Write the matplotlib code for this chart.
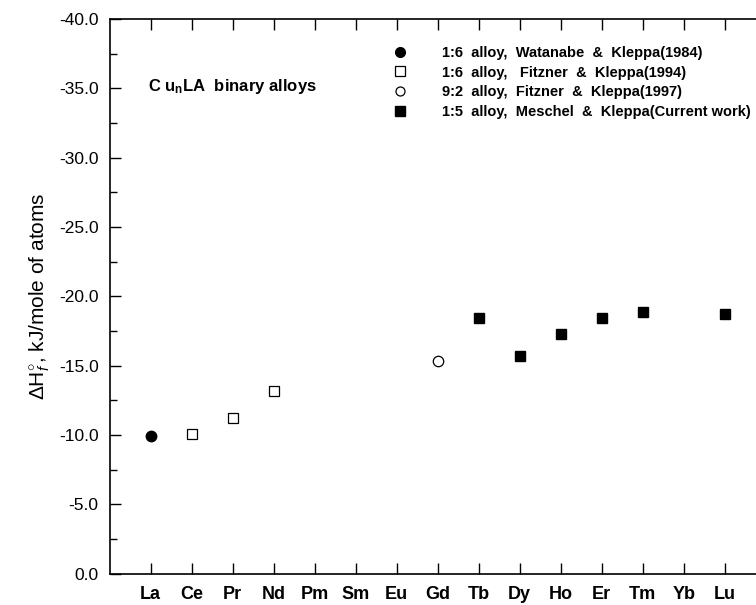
import matplotlib
matplotlib.use("Agg")
import matplotlib.pyplot as plt
from matplotlib.lines import Line2D
from matplotlib.ticker import MultipleLocator, FormatStrFormatter

plt.rcParams['font.family'] = ['Liberation Sans', 'DejaVu Sans']
plt.rcParams['mathtext.fontset'] = 'custom'
plt.rcParams['mathtext.rm'] = 'Liberation Sans'
plt.rcParams['mathtext.it'] = 'Liberation Sans:italic'
plt.rcParams['mathtext.bf'] = 'Liberation Sans:bold'

# lanthanide series, positions 1..15
elements = ['La', 'Ce', 'Pr', 'Nd', 'Pm', 'Sm', 'Eu', 'Gd', 'Tb', 'Dy', 'Ho', 'Er', 'Tm', 'Yb', 'Lu']

# enthalpy of formation, kJ/mole of atoms
watanabe_el = ['La']
watanabe_dh = [-9.9]
fitzner94_el = ['Ce', 'Pr', 'Nd']
fitzner94_dh = [-10.1, -11.2, -13.2]
fitzner97_el = ['Gd']
fitzner97_dh = [-15.3]
meschel_el = ['Tb', 'Dy', 'Ho', 'Er', 'Tm', 'Lu']
meschel_dh = [-18.4, -15.7, -17.3, -18.4, -18.9, -18.7]

labels = ['1:6  alloy,  Watanabe  &  Kleppa(1984)',
          '1:6  alloy,   Fitzner  &  Kleppa(1994)',
          '9:2  alloy,  Fitzner  &  Kleppa(1997)',
          '1:5  alloy,  Meschel  &  Kleppa(Current work)']


def pos(names):
    return [elements.index(n) + 1 for n in names]


fig = plt.figure(figsize=(7.56, 6.05), dpi=100)
ax = fig.add_axes([0.1451, 0.052, 16 * 41 / 756, 0.9165])

ax.plot(pos(watanabe_el), watanabe_dh, 'o', color='black', ms=7.5, ls='none')
ax.plot(pos(fitzner94_el), fitzner94_dh, 's', mfc='white', mec='black', mew=0.9, ms=7.5, ls='none')
ax.plot(pos(fitzner97_el), fitzner97_dh, 'o', mfc='white', mec='black', mew=0.9, ms=7.5, ls='none')
ax.plot(pos(meschel_el), meschel_dh, 's', color='black', ms=7.5, ls='none')

ax.set_xlim(0, 16)
ax.set_ylim(0, -40)
ax.set_xticks(range(1, 16))
ax.set_xticklabels(elements, fontsize=13, fontweight='bold')
ax.yaxis.set_major_locator(MultipleLocator(5))
ax.yaxis.set_minor_locator(MultipleLocator(2.5))
ax.yaxis.set_major_formatter(FormatStrFormatter('%.1f'))
ax.tick_params(axis='y', which='major', direction='in', length=8, width=1, labelsize=12.5, pad=8)
ax.tick_params(axis='y', which='minor', direction='in', length=5, width=1)
ax.tick_params(axis='x', which='major', direction='in', length=8, width=1, top=True, pad=9)
ax.spines['right'].set_visible(False)
for s in ['left', 'bottom', 'top']:
    ax.spines[s].set_linewidth(1.2)

ax.set_ylabel(r'ΔH$^{\circ}_{f}$, kJ/mole of atoms', fontsize=15, labelpad=5)

fig.text(148 / 756, 1 - 86 / 605, r'C u$_\mathbf{n}$LA  binary alloys', fontsize=12,
         fontweight='bold', va='center')

handles = [Line2D([], [], marker='o', color='black', ls='none', ms=7),
           Line2D([], [], marker='s', mfc='white', mec='black', mew=0.9, ls='none', ms=6.5),
           Line2D([], [], marker='o', mfc='white', mec='black', mew=0.9, ls='none', ms=6.5),
           Line2D([], [], marker='s', color='black', ls='none', ms=6.5)]
fig.legend(handles, labels, loc='upper left', bbox_to_anchor=(391 / 756, 1 - 46 / 605),
           frameon=False, prop={'weight': 'bold', 'size': 10.5}, handlelength=1.2,
           handletextpad=2.3, labelspacing=0.38, borderpad=0, borderaxespad=0)

fig.savefig('out.png', dpi=100)
